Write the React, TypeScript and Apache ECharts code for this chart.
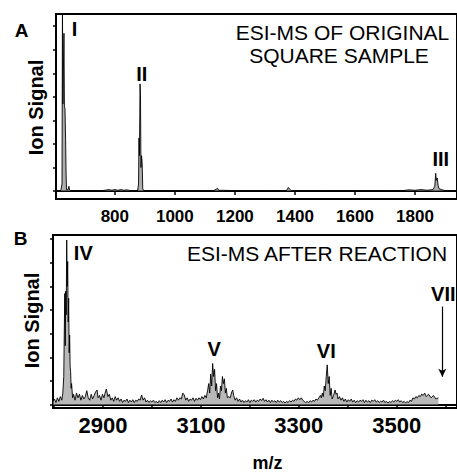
import React, { useEffect, useRef } from "react";
import * as echarts from "echarts";

// Panel A: ESI-MS of original square sample (m/z, relative ion signal in tick units)
const mzA: number[] = [604, 620, 624, 625.5, 627, 629, 630.5, 632, 634, 636, 637.5, 639, 644, 647, 649, 652, 700, 760, 770, 780, 790, 800, 810, 820, 830, 840, 850, 870, 876, 879, 880.5, 882, 884, 885.5, 887, 889, 891, 893, 896, 950, 1000, 1100, 1130, 1138, 1142, 1146, 1200, 1300, 1372, 1378, 1382, 1388, 1500, 1600, 1700, 1760, 1780, 1800, 1820, 1840, 1860, 1866, 1869, 1871, 1874, 1877, 1880, 1890, 1900, 1940];
const sigA: number[] = [0.02, 0.02, 0.3, 7.8, 3.7, 3.7, 6.7, 3.6, 3.5, 2.2, 0.8, 0.05, 0.05, 0.2, 0.05, 0.02, 0.02, 0.02, 0.04, 0.06, 0.03, 0.06, 0.03, 0.06, 0.03, 0.05, 0.02, 0.02, 0.02, 0.3, 2.25, 1.5, 4.55, 4.1, 1.0, 1.5, 1.2, 0.1, 0.02, 0.02, 0.02, 0.02, 0.02, 0.08, 0.12, 0.03, 0.02, 0.02, 0.02, 0.15, 0.08, 0.02, 0.02, 0.02, 0.02, 0.02, 0.05, 0.03, 0.06, 0.03, 0.06, 0.2, 0.75, 0.45, 0.55, 0.25, 0.1, 0.05, 0.02, 0.02];

// Panel B: ESI-MS after reaction
const mzB: number[] = [2798, 2801, 2804, 2807, 2810, 2813, 2816, 2818, 2820, 2821, 2822, 2823, 2824, 2825, 2826, 2827, 2828, 2829, 2830, 2831, 2832, 2833, 2834, 2835, 2836, 2838, 2840, 2843, 2846, 2849, 2852, 2855, 2858, 2861, 2864, 2867, 2870, 2873, 2876, 2879, 2882, 2885, 2888, 2890, 2893, 2896, 2899, 2902, 2905, 2907, 2910, 2913, 2916, 2919, 2922, 2925, 2928, 2931, 2934, 2937, 2940, 2943, 2946, 2949, 2952, 2955, 2958, 2961, 2964, 2967, 2970, 2973, 2976, 2979, 2982, 2985, 2988, 2991, 2994, 2997, 3000, 3003, 3006, 3009, 3012, 3015, 3018, 3021, 3024, 3027, 3030, 3033, 3036, 3039, 3042, 3045, 3048, 3051, 3054, 3057, 3060, 3063, 3066, 3069, 3072, 3075, 3078, 3081, 3084, 3087, 3090, 3093, 3096, 3099, 3102, 3105, 3108, 3111, 3114, 3116, 3118, 3120, 3122, 3124, 3126, 3128, 3130, 3132, 3134, 3136, 3138, 3140, 3142, 3144, 3146, 3148, 3150, 3152, 3154, 3157, 3160, 3163, 3165, 3167, 3170, 3173, 3176, 3179, 3182, 3185, 3188, 3191, 3194, 3197, 3200, 3203, 3206, 3209, 3212, 3215, 3218, 3221, 3224, 3227, 3230, 3233, 3236, 3239, 3242, 3245, 3248, 3251, 3254, 3257, 3260, 3263, 3266, 3269, 3272, 3275, 3278, 3281, 3284, 3287, 3290, 3293, 3296, 3299, 3302, 3305, 3308, 3311, 3314, 3317, 3320, 3323, 3326, 3329, 3332, 3335, 3338, 3341, 3344, 3346, 3348, 3350, 3352, 3354, 3356, 3358, 3360, 3362, 3364, 3366, 3368, 3371, 3374, 3376, 3378, 3380, 3383, 3386, 3389, 3392, 3395, 3398, 3401, 3404, 3407, 3410, 3413, 3416, 3419, 3422, 3425, 3428, 3431, 3434, 3437, 3440, 3443, 3446, 3449, 3452, 3455, 3458, 3461, 3464, 3467, 3470, 3473, 3476, 3479, 3482, 3485, 3488, 3491, 3494, 3497, 3500, 3503, 3506, 3509, 3512, 3515, 3518, 3521, 3524, 3527, 3530, 3533, 3536, 3539, 3542, 3545, 3548, 3551, 3554, 3557, 3560, 3565, 3570, 3575, 3580, 3585, 3590, 3595, 3598, 3601, 3604, 3607, 3610, 3613, 3616, 3623];
const sigB: number[] = [0.15, 0.25, 0.1, 0.3, 0.15, 0.35, 0.2, 0.5, 1.2, 3.0, 4.7, 2.5, 4.8, 3.8, 6.96, 5.0, 6.05, 3.5, 4.5, 2.2, 2.95, 1.6, 1.4, 0.7, 0.9, 0.3, 0.45, 0.2, 0.5, 0.3, 0.45, 0.2, 0.4, 0.25, 0.35, 0.6, 0.3, 0.2, 0.45, 0.25, 0.4, 0.55, 0.63, 0.3, 0.4, 0.2, 0.45, 0.3, 0.55, 0.67, 0.35, 0.45, 0.2, 0.3, 0.15, 0.35, 0.2, 0.3, 0.15, 0.25, 0.1, 0.2, 0.15, 0.25, 0.1, 0.2, 0.12, 0.22, 0.1, 0.2, 0.15, 0.25, 0.2, 0.42, 0.2, 0.3, 0.12, 0.2, 0.1, 0.18, 0.12, 0.2, 0.1, 0.15, 0.08, 0.18, 0.1, 0.2, 0.12, 0.22, 0.1, 0.2, 0.15, 0.25, 0.12, 0.22, 0.15, 0.3, 0.2, 0.3, 0.25, 0.5, 0.42, 0.2, 0.3, 0.15, 0.25, 0.2, 0.3, 0.15, 0.28, 0.2, 0.3, 0.22, 0.35, 0.25, 0.4, 0.3, 0.65, 0.9, 0.5, 1.3, 0.8, 1.75, 1.2, 1.5, 0.6, 0.9, 0.3, 0.5, 0.25, 0.8, 0.6, 1.2, 0.9, 1.1, 0.5, 0.7, 0.3, 0.35, 0.3, 0.55, 0.63, 0.4, 0.2, 0.3, 0.15, 0.25, 0.12, 0.2, 0.1, 0.18, 0.12, 0.22, 0.1, 0.2, 0.15, 0.22, 0.12, 0.2, 0.15, 0.25, 0.18, 0.28, 0.15, 0.22, 0.12, 0.2, 0.1, 0.2, 0.12, 0.18, 0.1, 0.2, 0.12, 0.18, 0.1, 0.15, 0.08, 0.15, 0.1, 0.18, 0.12, 0.2, 0.15, 0.25, 0.2, 0.3, 0.22, 0.3, 0.2, 0.15, 0.1, 0.15, 0.1, 0.18, 0.12, 0.2, 0.15, 0.25, 0.2, 0.3, 0.4, 0.3, 0.5, 0.35, 0.8, 0.6, 1.2, 1.69, 0.9, 1.2, 0.4, 0.7, 0.25, 0.4, 0.63, 0.45, 0.5, 0.25, 0.35, 0.2, 0.3, 0.15, 0.25, 0.12, 0.22, 0.15, 0.25, 0.12, 0.2, 0.1, 0.18, 0.12, 0.2, 0.15, 0.22, 0.1, 0.2, 0.12, 0.18, 0.1, 0.2, 0.15, 0.22, 0.12, 0.18, 0.1, 0.16, 0.12, 0.2, 0.1, 0.15, 0.08, 0.14, 0.1, 0.18, 0.12, 0.2, 0.15, 0.22, 0.12, 0.18, 0.1, 0.15, 0.08, 0.14, 0.1, 0.2, 0.15, 0.3, 0.25, 0.35, 0.3, 0.4, 0.35, 0.46, 0.4, 0.5, 0.35, 0.45, 0.3, 0.4, 0.25, 0.3];

const ticksA: number[] = [800, 1000, 1200, 1400, 1600, 1800];
const ticksBMajor: number[] = [2800, 2900, 3000, 3100, 3200, 3300, 3400, 3500, 3600];
const labelsB: number[] = [2900, 3100, 3300, 3500];
const yTicks: number[] = [0, 1, 2, 3, 4, 5, 6, 7];

const FONT = "'Liberation Sans', Arial, Helvetica, sans-serif";

export default function App() {
  const ref = useRef<HTMLDivElement>(null);
  useEffect(() => {
    if (!ref.current) return;
    const chart = echarts.init(ref.current, undefined, { renderer: "svg" });
    const dataA = mzA.map((m, i) => [m, sigA[i]]);
    const dataB = mzB.map((m, i) => [m, sigB[i]]);
    const plain = (v: number) => String(v);
    const txt = (text: string, x: number, y: number, size: number, bold: boolean, rot = 0) => ({
      type: "text",
      x,
      y,
      rotation: rot,
      style: {
        text,
        fontFamily: FONT,
        fontSize: size,
        fontWeight: bold ? "bold" : "normal",
        fill: "#000",
        align: "center",
        verticalAlign: "middle",
      },
    });
    chart.setOption({
      animation: false,
      backgroundColor: "#fff",
      grid: [
        { left: 56, top: 14, width: 402, height: 185, show: true, borderColor: "#000", borderWidth: 2, backgroundColor: "transparent" },
        { left: 53, top: 235, width: 405, height: 173, show: true, borderColor: "#000", borderWidth: 2, backgroundColor: "transparent" },
      ],
      xAxis: [
        {
          type: "value", gridIndex: 0, min: 604, max: 1940,
          axisLine: { show: true, lineStyle: { color: "#000", width: 2 } },
          axisTick: { show: true, length: 4, customValues: ticksA, lineStyle: { color: "#000", width: 1.5 } },
          axisLabel: { show: true, customValues: ticksA, formatter: plain, margin: 9, color: "#000", fontFamily: FONT, fontSize: 17, fontWeight: "bold" },
          splitLine: { show: false },
        },
        {
          type: "value", gridIndex: 1, min: 2798, max: 3623,
          axisLine: { show: true, lineStyle: { color: "#000", width: 2 } },
          axisTick: { show: true, length: 4, customValues: ticksBMajor, lineStyle: { color: "#000", width: 1.5 } },
          axisLabel: { show: true, customValues: labelsB, formatter: plain, margin: 6, color: "#000", fontFamily: FONT, fontSize: 22, fontWeight: "bold" },
          splitLine: { show: false },
        },
      ],
      yAxis: [
        {
          type: "value", gridIndex: 0, min: -0.34, max: 7.52,
          axisLine: { show: true, lineStyle: { color: "#000", width: 2 } },
          axisTick: { show: true, length: 3, customValues: yTicks, lineStyle: { color: "#000", width: 1.5 } },
          axisLabel: { show: false },
          splitLine: { show: false },
        },
        {
          type: "value", gridIndex: 1, min: -0.13, max: 7.17,
          axisLine: { show: true, lineStyle: { color: "#000", width: 2 } },
          axisTick: { show: true, length: 3, customValues: yTicks, lineStyle: { color: "#000", width: 1.5 } },
          axisLabel: { show: false },
          splitLine: { show: false },
        },
      ],
      series: [
        {
          type: "line", xAxisIndex: 0, yAxisIndex: 0, data: dataA, showSymbol: false, clip: true,
          lineStyle: { color: "#000", width: 0.9 },
          areaStyle: { color: "#8a8a8a", opacity: 0.7, origin: 0 },
        },
        {
          type: "line", xAxisIndex: 1, yAxisIndex: 1, data: dataB, showSymbol: false, clip: true,
          lineStyle: { color: "#000", width: 0.9 },
          areaStyle: { color: "#8a8a8a", opacity: 0.6, origin: 0 },
          markLine: {
            silent: true,
            symbol: ["none", "arrow"],
            symbolSize: [6, 8],
            label: { show: false },
            lineStyle: { color: "#000", width: 1.2, type: "solid" },
            data: [[{ coord: [3593, 4.15] }, { coord: [3593, 1.19] }]],
          },
        },
      ],
      graphic: [
        txt("A", 21.5, 30.5, 19, true),
        txt("B", 20.5, 238.5, 19, true),
        txt("Ion Signal", 35.7, 107.5, 20, true, Math.PI / 2),
        txt("Ion Signal", 32, 320.5, 20, true, Math.PI / 2),
        txt("ESI-MS OF ORIGINAL", 342.5, 32.5, 21, false),
        txt("SQUARE SAMPLE", 339, 55, 21, false),
        txt("ESI-MS AFTER REACTION", 317, 253, 21, false),
        txt("I", 74.5, 28.5, 20, true),
        txt("II", 141.7, 74, 20, true),
        txt("III", 440.8, 159, 20, true),
        txt("IV", 83.3, 253, 20, true),
        txt("V", 214.2, 348.5, 20, true),
        txt("VI", 326.3, 351, 20, true),
        txt("VII", 443.3, 293.5, 20, true),
        txt("m/z", 267.5, 463, 18, true),
      ],
    });
    return () => chart.dispose();
  }, []);
  return (
    <div
      ref={ref}
      style={{ position: "absolute", left: 0, top: 0, width: 457, height: 474, background: "#fff" }}
    />
  );
}
